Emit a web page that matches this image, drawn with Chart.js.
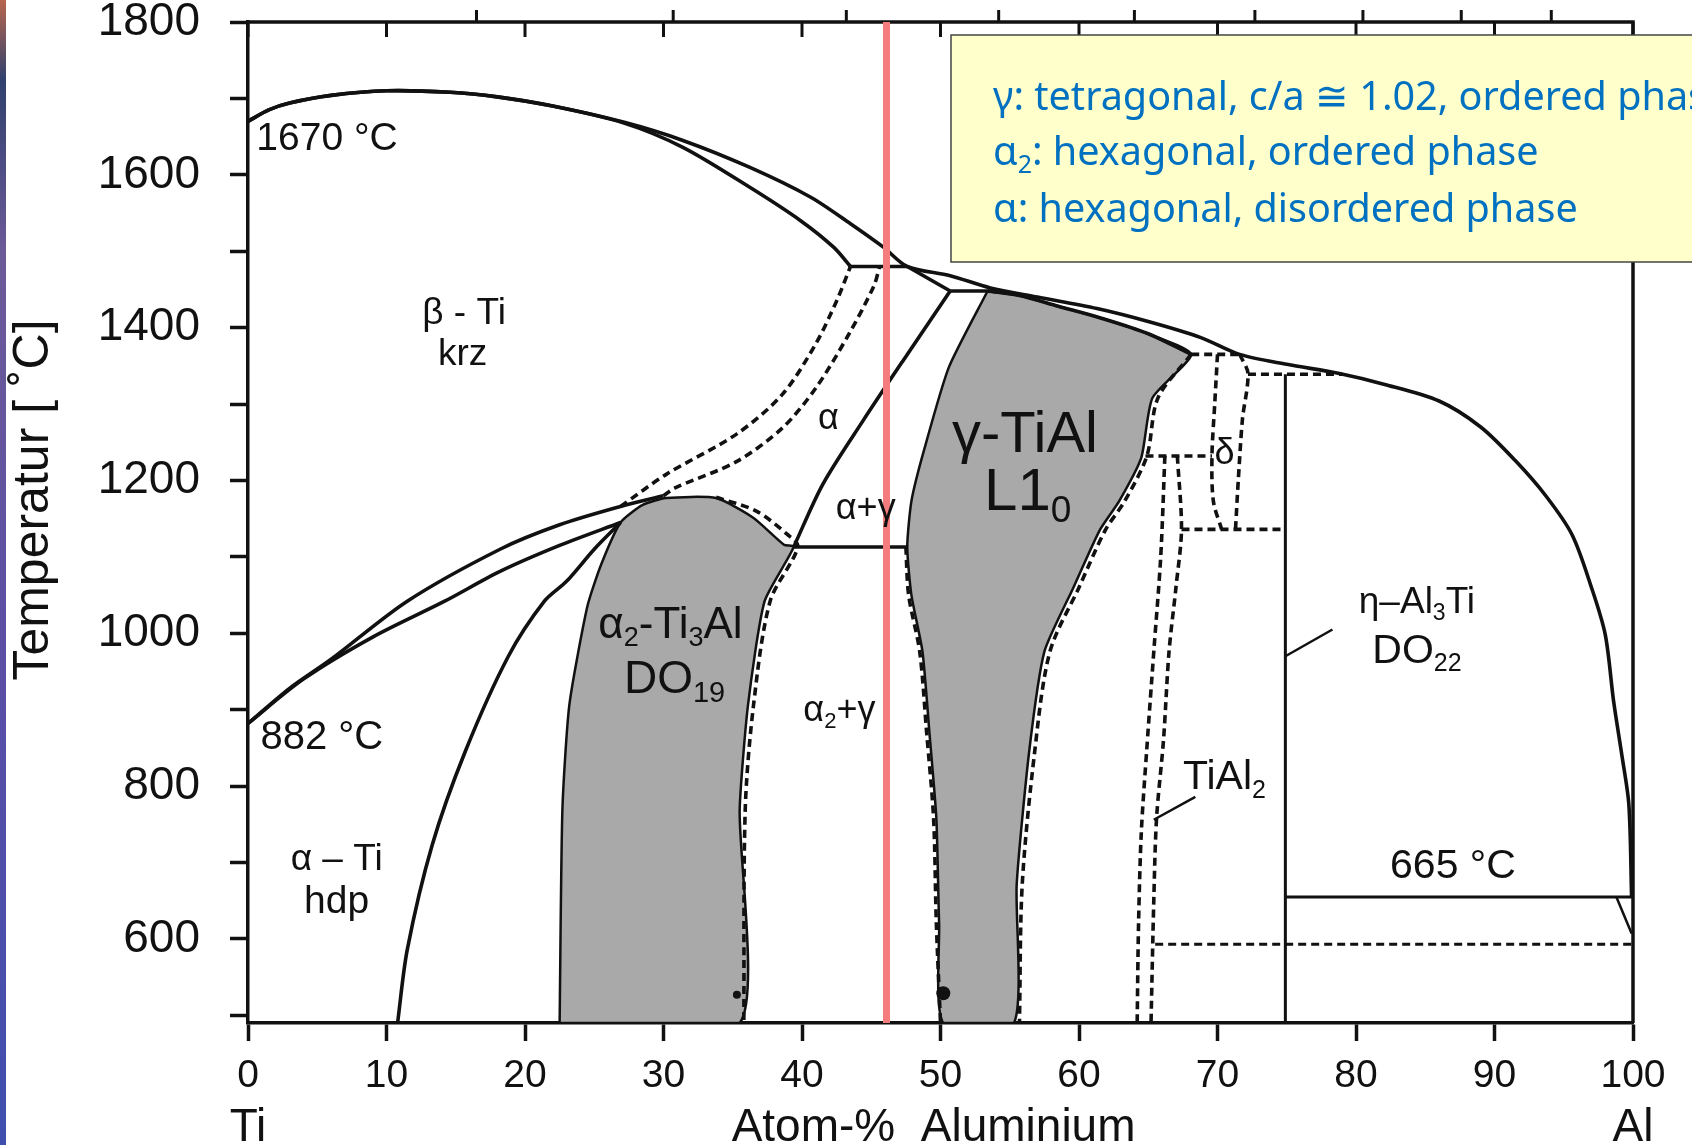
<!DOCTYPE html>
<html>
<head>
<meta charset="utf-8">
<title>Ti-Al Phasendiagramm</title>
<script src="https://cdn.jsdelivr.net/npm/chart.js@4.4.1/dist/chart.umd.min.js"></script>
<style>
  html, body { margin: 0; padding: 0; background: #fff; overflow: hidden; }
  #wrap { position: relative; width: 1692px; height: 1145px; }
  #slide-edge {
    position: absolute; left: 0; top: 0; width: 6px; height: 1145px;
    background: linear-gradient(to bottom, #b8664e 0%, #30416e 7%, #6c5a98 22%, #5a4ea6 60%, #3f4fae 100%);
  }
</style>
</head>
<body>
<div id="wrap">
  <canvas id="chart" width="1692" height="1145"></canvas>
  <div id="slide-edge"></div>
</div>
<script>
// Ti-Al phase diagram, temperature [°C] over Atom-% Aluminium

const FONT = '"Liberation Sans", Arial, Helvetica, sans-serif';

// Axis ticks
const xTickValues = [0, 10, 20, 30, 40, 50, 60, 70, 80, 90, 100];
const yTickValues = [500, 600, 700, 800, 900, 1000, 1100, 1200, 1300, 1400, 1500, 1600, 1700, 1800];
const yLabelValues = [600, 800, 1000, 1200, 1400, 1600, 1800];
// weight-% marks on the upper frame (in Atom-% positions)
const weightTicks = [16.5, 30.7, 43.2, 54.2, 64.0, 72.7, 80.5, 87.6, 94.1];

// Phase boundaries, pairs of [Atom-% Al, °C]
const liquidus = [[0,1670],[1.5,1685],[3,1694],[6,1704],[10,1710],[14.6,1708],[18,1702],[22,1690],[27.1,1669],
  [31.4,1645],[36.2,1610],[40.6,1571],[43.5,1536],[45.9,1505],[47.6,1480],[50.7,1468],[53.6,1452],[57,1440],
  [61.3,1425],[65,1408],[68.8,1387],[71.6,1365],[75,1352],[78.8,1340],[82,1326],[86,1304],[89,1270],[91.5,1226],
  [93.7,1180],[95.6,1129],[97,1060],[98,998],[98.6,911],[99.2,840],[99.7,776],[99.9,655]];
const solidusBeta = [[0,1670],[1.5,1685],[3,1694],[6,1704],[10,1710],[14.6,1708],[18,1702],[22,1690],[27.1,1668],
  [31.4,1636],[36.2,1584],[39.9,1540],[42.3,1505],[43.5,1480]];
const peritecticBeta = [[43.5,1480],[47.6,1480]];
const solidusAlpha = [[47.6,1480],[50.7,1448]];
const peritecticAlpha = [[50.7,1448],[53.6,1448]];
const solidusGamma = [[53.4,1448],[55.7,1442],[58.5,1428],[61.5,1413],[65,1392],[68.1,1365]];

const betaTransus = [[0,882],[3,928],[6,966],[11.5,1042],[18.2,1110],[22.5,1142],[26.9,1166],[30,1180]];
const alphaTransus = [[0,882],[4,940],[9,995],[14.2,1042],[18.2,1081],[22.5,1115],[26.9,1145]];
const betaUpperDashed = [[26.9,1166],[30.2,1208],[35.3,1261],[38.6,1313],[41,1379],[42.5,1435],[43.5,1480]];
const alphaUpperDashed = [[30,1180],[30.8,1190],[35.3,1225],[38.6,1269],[41,1321],[43.4,1392],[45.2,1455],[45.6,1480]];
const alphaAlpha2 = [[26.9,1145],[25,1110],[23,1068],[21.4,1042],[18.8,970],[15.7,846],[13.3,723],[11.5,586],[10.8,490]];

const alpha2Field = [[22.5,490],[22.7,769],[23.2,906],[24.5,1035],[25.5,1090],[26.9,1145],[28.5,1168],[30.2,1177],
  [33.8,1177],[36.5,1151],[38.7,1116],[39.4,1113],[37.3,1042],[36.1,906],[35.5,769],[35.5,490],[22.5,490]];
const alpha2RightDashed = [[33.8,1178],[36.7,1160],[38.9,1130],[39.7,1113],[37.7,1042],[36.5,906],[35.9,769],[35.8,490]];

const alphaGamma = [[39.4,1113],[41.5,1195],[44.4,1278],[47.6,1365],[50.7,1448]];
const eutectoid = [[39.4,1113],[47.6,1113]];

const gammaField = [[53.4,1448],[55.7,1442],[58.5,1428],[61.5,1413],[65,1392],[68.1,1365],[65.3,1308],[64.5,1230],
  [62.9,1173],[61.5,1135],[59.6,1060],[57.5,976],[56.4,845],[55.5,671],[55.3,490],[50.2,490],[49.9,620],[49.7,758],
  [49.2,870],[48.7,976],[47.9,1050],[47.6,1113],[47.9,1173],[48.8,1239],[50.6,1348],[53.4,1448]];
const gammaRightDashed = [[68.1,1365],[65.7,1308],[64.9,1232],[63.3,1173],[61.9,1135],[60,1060],[57.9,976],
  [56.8,845],[55.9,671],[55.7,490]];
const gammaLeftDashed = [[47.5,1113],[47.7,1050],[48.5,976],[49,870],[49.5,758],[49.7,620],[50,490]];

const deltaTop = [[68.1,1365],[71.6,1365]];
const deltaLeft = [[70,1365],[69.8,1300],[69.6,1232],[69.7,1173],[70.3,1136]];
const deltaRight = [[71.6,1365],[72.2,1340],[71.8,1280],[71.5,1200],[71.3,1136]];
const tial2Top = [[64.8,1232],[69.6,1232]];
const tial2Left = [[66.2,1232],[65.9,1100],[65.4,976],[64.9,850],[64.5,740],[64.3,620],[64.2,490]];
const tial2Right = [[67.1,1232],[67.4,1136],[67,1060],[66.5,976],[66.1,860],[65.6,758],[65.4,650],[65.2,490]];
const line1136 = [[67.4,1136],[74.9,1136]];
const line1339 = [[72.2,1339],[79,1339]];
const al3tiLine = [[74.9,1339],[74.9,490]];
const eutectic665 = [[74.9,655],[100,655]];
const dashed593 = [[65.5,593],[100,593]];
const alSolvus = [[98.8,655],[99.9,607]];

const etaPointer = [[74.9,970],[78.3,1005]];
const tial2Pointer = [[65.4,756],[68.4,786]];
const alloyMarker = [[46.1,490],[46.1,1800]];
const smallDot = [[35.3,527]];
const bigDot = [[50.2,529]];

// Field and point labels: text parts ([text, subscript?]), Atom-%, °C, font size
const fieldLabels = [
  { parts: [['1670 °C']], x: 0.6, t: 1651, size: 39, align: 'left' },
  { parts: [['882 °C']], x: 0.9, t: 867, size: 40, align: 'left' },
  { parts: [['β - Ti']], x: 15.6, t: 1422, size: 37 },
  { parts: [['krz']], x: 15.5, t: 1368, size: 37 },
  { parts: [['α']], x: 41.9, t: 1284, size: 36 },
  { parts: [['α+γ']], x: 44.6, t: 1166, size: 36 },
  { parts: [['γ-TiAl']], x: 56.1, t: 1265, size: 58 },
  { parts: [['L1'], ['0', true]], x: 56.3, t: 1190, size: 60 },
  { parts: [['α'], ['2', true], ['-Ti'], ['3', true], ['Al']], x: 30.5, t: 1015, size: 44 },
  { parts: [['DO'], ['19', true]], x: 30.8, t: 944, size: 46 },
  { parts: [['α'], ['2', true], ['+γ']], x: 42.7, t: 902, size: 36 },
  { parts: [['α – Ti']], x: 6.4, t: 708, size: 37 },
  { parts: [['hdp']], x: 6.4, t: 652, size: 39 },
  { parts: [['δ']], x: 70.5, t: 1239, size: 36 },
  { parts: [['η–Al'], ['3', true], ['Ti']], x: 84.4, t: 1044, size: 37 },
  { parts: [['DO'], ['22', true]], x: 84.4, t: 981, size: 41 },
  { parts: [['TiAl'], ['2', true]], x: 70.5, t: 815, size: 41 },
  { parts: [['665 °C']], x: 87.0, t: 699, size: 41 }
];

const noteLines = [
  [['γ: tetragonal, c/a ≅ 1.02, ordered phase']],
  [['α'], ['2', true], [': hexagonal, ordered phase']],
  [['α: hexagonal, disordered phase']]
];

function pts(arr) {
  return arr.map(p => ({ x: p[0], y: p[1] }));
}

function line(arr, opts) {
  return Object.assign({
    data: pts(arr), showLine: true, borderColor: '#111', borderWidth: 3.6,
    pointRadius: 0, tension: 0.3, fill: false, order: 1
  }, opts || {});
}

function dashed(arr, opts) {
  return line(arr, Object.assign({ borderDash: [8, 5], borderWidth: 3.6 }, opts || {}));
}

function field(arr) {
  return line(arr, { fill: 'shape', backgroundColor: '#a9a9a9', borderWidth: 2.5, tension: 0.2, order: 10 });
}

function drawParts(ctx, parts, px, cy, size, align, family) {
  const fam = family || FONT;
  const subSize = Math.round(size * 0.62);
  let total = 0;
  parts.forEach(p => {
    ctx.font = (p[1] ? subSize : size) + 'px ' + fam;
    total += ctx.measureText(p[0]).width;
  });
  let cx = align === 'left' ? px : px - total / 2;
  const base = cy + size * 0.36;
  ctx.textAlign = 'left';
  ctx.textBaseline = 'alphabetic';
  parts.forEach(p => {
    ctx.font = (p[1] ? subSize : size) + 'px ' + fam;
    ctx.fillText(p[0], cx, base + (p[1] ? size * 0.2 : 0));
    cx += ctx.measureText(p[0]).width;
  });
  return total;
}

const diagramDecor = {
  id: 'diagramDecor',
  beforeDatasetsDraw(chart) {
    const { ctx, chartArea: a, scales: { x } } = chart;
    ctx.save();
    ctx.strokeStyle = '#111';
    ctx.lineWidth = 3.5;
    ctx.beginPath();
    ctx.moveTo(a.left - 2, a.top);
    ctx.lineTo(a.right, a.top);
    ctx.lineTo(a.right, a.bottom);
    ctx.stroke();
    // Atom-% marks pointing down, weight-% marks pointing up
    ctx.lineWidth = 3;
    xTickValues.forEach(v => {
      const px = x.getPixelForValue(v);
      ctx.beginPath(); ctx.moveTo(px, a.top); ctx.lineTo(px, a.top + 15); ctx.stroke();
    });
    weightTicks.forEach(v => {
      const px = x.getPixelForValue(v);
      ctx.beginPath(); ctx.moveTo(px, a.top); ctx.lineTo(px, a.top - 12); ctx.stroke();
    });
    ctx.restore();
  },
  afterDatasetsDraw(chart) {
    const { ctx, scales: { x, y } } = chart;
    ctx.save();
    ctx.fillStyle = '#111';
    fieldLabels.forEach(l => {
      drawParts(ctx, l.parts, x.getPixelForValue(l.x), y.getPixelForValue(l.t), l.size, l.align);
    });
    ctx.restore();
  },
  afterDraw(chart) {
    const { ctx, chartArea: a, scales: { x } } = chart;
    ctx.save();
    ctx.fillStyle = '#111';
    // axis captions
    ctx.font = '46px ' + FONT;
    ctx.textBaseline = 'middle';
    ctx.textAlign = 'center';
    const capY = a.bottom + 105;
    ctx.fillText('Ti', x.getPixelForValue(0), capY);
    ctx.fillText('Atom-%  Aluminium', x.getPixelForValue(49.5), capY);
    ctx.fillText('Al', x.getPixelForValue(100), capY);
    ctx.translate(34, 500);
    ctx.rotate(-Math.PI / 2);
    ctx.font = '50px ' + FONT;
    ctx.fillText('Temperatur [ ˚C]', 0, 0);
    ctx.restore();

    // note box of the slide
    ctx.save();
    const bx = 951, by = 35, bh = 227;
    ctx.fillStyle = '#ffffcc';
    ctx.fillRect(bx, by, chart.width - bx + 10, bh);
    ctx.strokeStyle = '#444';
    ctx.lineWidth = 1.5;
    ctx.strokeRect(bx, by, chart.width - bx + 10, bh);
    const fam = '"Noto Sans", "Open Sans", sans-serif';
    ctx.font = '36px ' + fam;
    const w3 = ctx.measureText(noteLines[2][0][0]).width;
    const size = 36 * 585 / w3;
    ctx.fillStyle = '#0070c0';
    const baselines = [110, 165, 222];
    noteLines.forEach((ln, i) => {
      drawParts(ctx, ln, 993, baselines[i] - size * 0.36, size, 'left', fam);
    });
    ctx.restore();
  }
};

const datasets = [
  line(alloyMarker, { borderColor: '#f47c7c', borderWidth: 7, tension: 0, order: -1 }),
  field(alpha2Field),
  field(gammaField),
  line(liquidus),
  line(solidusBeta),
  line(peritecticBeta, { tension: 0 }),
  line(solidusAlpha, { tension: 0 }),
  line(peritecticAlpha, { tension: 0 }),
  line(solidusGamma),
  line(betaTransus),
  line(alphaTransus),
  dashed(betaUpperDashed),
  dashed(alphaUpperDashed),
  line(alphaAlpha2),
  dashed(alpha2RightDashed),
  line(alphaGamma),
  line(eutectoid, { tension: 0 }),
  dashed(gammaRightDashed),
  dashed(gammaLeftDashed),
  dashed(deltaTop, { tension: 0 }),
  dashed(deltaLeft),
  dashed(deltaRight),
  dashed(tial2Top, { tension: 0 }),
  dashed(tial2Left),
  dashed(tial2Right),
  dashed(line1136, { tension: 0 }),
  dashed(line1339, { tension: 0 }),
  line(al3tiLine, { tension: 0, borderWidth: 3 }),
  line(eutectic665, { tension: 0, borderWidth: 3 }),
  dashed(dashed593, { tension: 0, borderWidth: 3 }),
  line(alSolvus, { tension: 0, borderWidth: 2.5 }),
  line(etaPointer, { tension: 0, borderWidth: 2.5 }),
  line(tial2Pointer, { tension: 0, borderWidth: 2.5 }),
  { data: pts(smallDot), showLine: false, pointRadius: 4, pointBackgroundColor: '#111', pointBorderWidth: 0, order: 0 },
  { data: pts(bigDot), showLine: false, pointRadius: 7, pointBackgroundColor: '#111', pointBorderWidth: 0, order: 0 }
];

new Chart(document.getElementById('chart'), {
  type: 'scatter',
  data: { datasets: datasets },
  options: {
    responsive: false,
    devicePixelRatio: 1,
    animation: false,
    events: [],
    layout: { padding: { left: 0, right: 59, top: 22, bottom: 0 } },
    plugins: { legend: { display: false }, tooltip: { enabled: false } },
    scales: {
      x: {
        type: 'linear', position: 'bottom', min: 0, max: 100,
        grid: { drawOnChartArea: false, drawTicks: true, tickLength: 18, tickWidth: 3.5, tickColor: '#111' },
        border: { display: true, color: '#111', width: 3.5 },
        ticks: { color: '#111', font: { family: FONT, size: 39 }, padding: 12, maxRotation: 0, autoSkip: false },
        afterBuildTicks: s => { s.ticks = xTickValues.map(v => ({ value: v })); },
        afterFit: s => { s.height = 122; s.paddingLeft = 0; s.paddingRight = 0; }
      },
      y: {
        type: 'linear', position: 'left', min: 490, max: 1800,
        grid: { drawOnChartArea: false, drawTicks: true, tickLength: 18, tickWidth: 3.5, tickColor: '#111' },
        border: { display: true, color: '#111', width: 3.5 },
        ticks: {
          color: '#111', font: { family: FONT, size: 46 }, padding: 30, autoSkip: false,
          callback: v => yLabelValues.includes(v) ? String(v) : ''
        },
        afterBuildTicks: s => { s.ticks = yTickValues.map(v => ({ value: v })); },
        afterFit: s => { s.width = 248; s.paddingTop = 0; s.paddingBottom = 0; }
      }
    }
  },
  plugins: [diagramDecor]
});
</script>
</body>
</html>
